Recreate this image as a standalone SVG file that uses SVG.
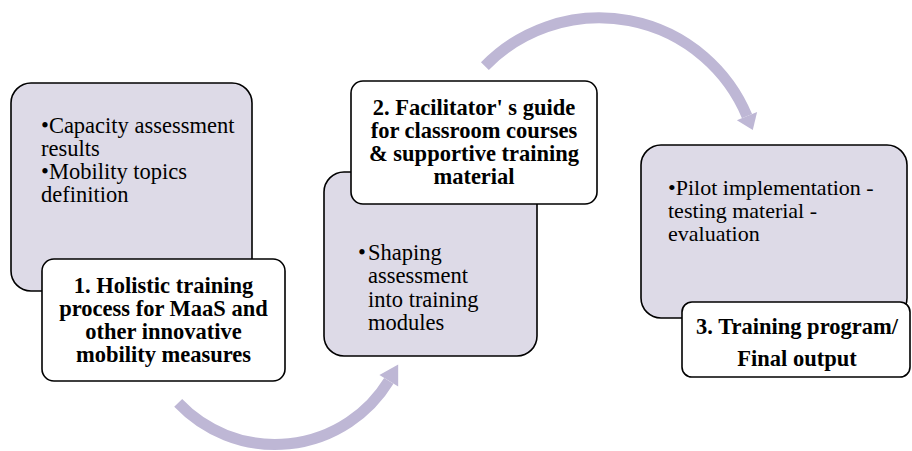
<svg xmlns="http://www.w3.org/2000/svg" width="912" height="451" viewBox="0 0 912 451">
<style>
.g{fill:#DDDAE7;stroke:#000;stroke-width:1.6}
.w{fill:#fff;stroke:#000;stroke-width:1.6}
.t{font-family:"Liberation Serif","Times New Roman",serif;font-size:22.5px;fill:#000}
.s{font-size:22px}
.b{font-family:"Liberation Serif","Times New Roman",serif;font-size:22.5px;font-weight:bold;fill:#000;text-anchor:middle}
.arc{fill:none;stroke:#BEB7D5;stroke-width:11}
.head{fill:#BEB7D5}
</style>
<g id="connectors">
<path class="arc" d="M484.9,66.1 A160,160 0 0 1 747,116.1"/>
<polygon class="head" points="757.1,111.9 736.9,120.3 752.8,129.9"/>
<path class="arc" d="M178.2,402.9 A133.5,133.5 0 0 0 388.8,380.8"/>
<polygon class="head" points="398.2,386.5 379.4,375.1 398.2,364.5"/>
</g>
<g id="step1-detail">
<rect class="g" x="11" y="83" width="241" height="208" rx="20"/>
<text class="t" x="41" y="133">•Capacity assessment</text>
<text class="t" x="41" y="156">results</text>
<text class="t" x="41" y="179">•Mobility topics</text>
<text class="t" x="41" y="202">definition</text>
</g>
<g id="step1">
<rect class="w" x="42" y="259" width="243" height="122" rx="12"/>
<text class="b" x="163.5" y="293">1. Holistic training</text>
<text class="b" x="163.5" y="316">process for MaaS and</text>
<text class="b" x="163.5" y="339">other innovative</text>
<text class="b" x="163.5" y="362">mobility measures</text>
</g>
<g id="step2-detail">
<rect class="g" x="324" y="172" width="213" height="184" rx="20"/>
<text class="t" x="358" y="260">•</text>
<text class="t" x="368" y="260">Shaping</text>
<text class="t" x="368" y="283">assessment</text>
<text class="t" x="368" y="307">into training</text>
<text class="t" x="368" y="330">modules</text>
</g>
<g id="step2">
<rect class="w" x="351" y="81" width="246" height="123" rx="12"/>
<text class="b" x="474" y="115">2. Facilitator' s guide</text>
<text class="b" x="474" y="138">for classroom courses</text>
<text class="b" x="474" y="161">&amp; supportive training</text>
<text class="b" x="474" y="184">material</text>
</g>
<g id="step3-detail">
<rect class="g" x="641" y="145" width="266" height="173" rx="20"/>
<text class="t s" x="668" y="195">•Pilot implementation -</text>
<text class="t s" x="668" y="218">testing material -</text>
<text class="t s" x="668" y="241">evaluation</text>
</g>
<g id="step3">
<rect class="w" x="682" y="302" width="228" height="75" rx="10"/>
<text class="b" x="797" y="334">3. Training program/</text>
<text class="b" x="797" y="366">Final output</text>
</g>
</svg>
